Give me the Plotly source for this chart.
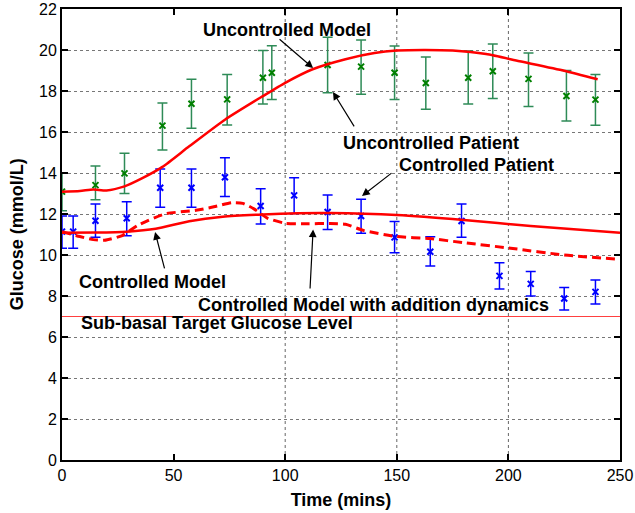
import plotly.graph_objects as go

# Uncontrolled patient (green)
unc_t = [0, 15, 28, 45, 58, 74, 90, 94, 119, 134, 149, 163, 182, 193, 209, 226, 239]
unc_g = [13.09, 13.41, 13.98, 16.31, 17.38, 17.59, 18.65, 18.89, 19.27, 19.19, 18.89, 18.39, 18.65, 18.96, 18.59, 17.76, 17.58]
unc_hi = [14.0, 14.34, 14.96, 17.41, 18.57, 18.8, 19.97, 20.21, 20.62, 20.49, 20.2, 19.66, 19.95, 20.29, 19.85, 19.0, 18.8]
unc_lo = [12.16, 12.7, 13.0, 15.12, 16.18, 16.34, 17.37, 17.58, 17.92, 17.84, 17.58, 17.11, 17.37, 17.64, 17.25, 16.54, 16.33]

# Controlled patient (blue)
con_t = [0, 5, 15, 29, 44, 58, 73, 89, 104, 119, 134, 149, 165, 179, 196, 210, 225, 239]
con_g = [11.14, 11.14, 11.67, 11.79, 13.28, 13.28, 13.79, 12.39, 12.91, 12.1, 11.9, 10.86, 10.16, 11.66, 8.98, 8.59, 7.88, 8.2]
con_hi = [11.9, 11.9, 12.49, 12.6, 14.2, 14.2, 14.75, 13.23, 13.77, 12.93, 12.72, 11.64, 10.89, 12.49, 9.62, 9.19, 8.42, 8.78]
con_lo = [10.33, 10.33, 10.86, 10.94, 12.33, 12.33, 12.85, 11.51, 12.03, 11.25, 11.06, 10.11, 9.46, 10.86, 8.34, 8.0, 7.32, 7.61]

# Uncontrolled model (solid red)
um_t = [0, 8, 14, 20, 28, 36, 45, 57, 73, 90, 100, 112, 127, 140, 150, 162, 175, 190, 205, 225, 240]
um_g = [13.09, 13.12, 13.2, 13.15, 13.35, 13.75, 14.3, 15.3, 16.6, 17.75, 18.4, 19.05, 19.55, 19.85, 19.97, 20.0, 19.97, 19.8, 19.45, 18.99, 18.57]

# Controlled model (solid red)
cm_t = [0, 15, 29, 42, 57, 72, 90, 106, 120, 150, 180, 210, 250]
cm_g = [11.09, 11.1, 11.14, 11.28, 11.65, 11.87, 11.98, 12.04, 12.05, 11.95, 11.71, 11.41, 11.09]

# Controlled model with addition dynamics (dashed red)
cd_t = [0, 8, 14, 19, 27, 34, 46, 60, 68, 76, 81, 86, 92, 100, 110, 120, 127, 135, 150, 165, 180, 201, 225, 250]
cd_g = [11.14, 10.9, 10.75, 10.72, 10.95, 11.45, 12.0, 12.18, 12.35, 12.55, 12.52, 12.25, 11.8, 11.55, 11.52, 11.54, 11.5, 11.2, 10.9, 10.8, 10.6, 10.33, 10.0, 9.79]

target_level = 7
x_ticks = [0, 50, 100, 150, 200, 250]
y_ticks = list(range(0, 23, 2))
vgrid = [100, 150, 200]

FONT = "Liberation Sans, Arial, sans-serif"

fig = go.Figure()

fig.add_trace(go.Scatter(
    x=[0, 250], y=[target_level, target_level], mode="lines",
    line=dict(color="rgba(255,0,0,0.75)", width=1), showlegend=False, hoverinfo="skip"))

fig.add_trace(go.Scatter(
    x=unc_t, y=unc_g, mode="markers",
    marker=dict(symbol="x-thin", size=6, line=dict(color="#008000", width=2)),
    error_y=dict(type="data", symmetric=False,
                 array=[h - g for h, g in zip(unc_hi, unc_g)],
                 arrayminus=[g - l for g, l in zip(unc_g, unc_lo)],
                 color="#2e8b57", thickness=1.5, width=5),
    showlegend=False))

fig.add_trace(go.Scatter(
    x=con_t, y=con_g, mode="markers",
    marker=dict(symbol="x-thin", size=6, line=dict(color="#0000ff", width=2)),
    error_y=dict(type="data", symmetric=False,
                 array=[h - g for h, g in zip(con_hi, con_g)],
                 arrayminus=[g - l for g, l in zip(con_g, con_lo)],
                 color="#0000ff", thickness=1.5, width=5),
    showlegend=False))

fig.add_trace(go.Scatter(x=um_t, y=um_g, mode="lines",
                         line=dict(color="#ff0000", width=2.5, shape="spline", smoothing=0.6),
                         showlegend=False))
fig.add_trace(go.Scatter(x=cm_t, y=cm_g, mode="lines",
                         line=dict(color="#ff0000", width=2.5, shape="spline", smoothing=0.6),
                         showlegend=False))
fig.add_trace(go.Scatter(x=cd_t, y=cd_g, mode="lines",
                         line=dict(color="#ff0000", width=3, dash="9px,5px", shape="spline", smoothing=0.6),
                         showlegend=False))

# vertical grid lines at selected ticks
for v in vgrid:
    fig.add_shape(type="line", xref="x", yref="paper", x0=v, x1=v, y0=0, y1=1,
                  line=dict(color="#666666", width=1, dash="dot"), layer="below")

afont = dict(family=FONT, size=18, color="black")
texts = [
    ("<b>Uncontrolled Model</b>", 100.8, 20.98, "center"),
    ("<b>Uncontrolled Patient</b>", 165.5, 15.46, "center"),
    ("<b>Controlled Patient</b>", 185.8, 14.39, "center"),
    ("<b>Controlled Model</b>", 40.5, 8.7, "center"),
    ("<b>Controlled Model with addition dynamics</b>", 139.6, 7.56, "center"),
    ("<b>Sub-basal Target Glucose Level</b>", 7.5, 6.68, "left"),
]
for txt, x, y, anc in texts:
    fig.add_annotation(x=x, y=y, text=txt, showarrow=False, xanchor=anc,
                       yanchor="middle", font=afont)

arrows = [
    (112.5, 19.12, 96.8, 20.59),
    (121.4, 17.95, 131.3, 16.2),
    (134.4, 12.88, 148.3, 14.05),
    (41.7, 11.12, 46.1, 9.27),
    (112.5, 11.25, 111.1, 8.29),
]
for x, y, ax, ay in arrows:
    fig.add_annotation(x=x, y=y, ax=ax, ay=ay, axref="x", ayref="y", text="",
                       showarrow=True, arrowhead=2, arrowsize=1.3, arrowwidth=1.2,
                       arrowcolor="black")

# y-axis title placed as a rotated annotation
fig.add_annotation(x=-0.081, y=0.5, xref="paper", yref="paper", text="<b>Glucose (mmol/L)</b>",
                   textangle=-90, showarrow=False, xanchor="center", yanchor="middle",
                   font=dict(family=FONT, size=18, color="black"))

fig.update_layout(
    width=635, height=513,
    margin=dict(l=62, r=15, t=9, b=53),
    paper_bgcolor="white", plot_bgcolor="white",
    font=dict(family=FONT, size=16, color="black"),
    xaxis=dict(range=[0, 250], tickvals=x_ticks, showgrid=False, zeroline=False,
               automargin=False,
               showline=True, linecolor="black", linewidth=2, mirror="ticks",
               ticks="inside", ticklen=6, tickwidth=1.5, tickcolor="black",
               tickfont=dict(size=16),
               title=dict(text="<b>Time (mins)</b>", font=dict(size=18), standoff=10)),
    yaxis=dict(range=[0, 22], tickvals=y_ticks, showgrid=True, gridcolor="#777777",
               griddash="dot", gridwidth=1, zeroline=False, automargin=False,
               showline=True, linecolor="black", linewidth=2, mirror="ticks",
               ticks="inside", ticklen=6, tickwidth=1.5, tickcolor="black",
               tickfont=dict(size=16)),
)

fig.write_html("out.html", config={"displayModeBar": False},
               post_script="document.body.style.margin='0';document.body.style.overflow='hidden';")
